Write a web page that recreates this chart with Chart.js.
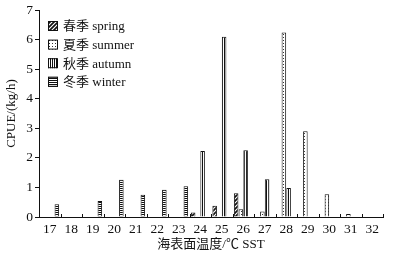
<!DOCTYPE html>
<html>
<head>
<meta charset="utf-8">
<script src="https://cdn.jsdelivr.net/npm/chart.js@4.4.1/dist/chart.umd.min.js"></script>
<style>
  html, body { margin: 0; padding: 0; background: #fff; }
  #wrap { width: 393px; height: 259px; position: relative; }
</style>
</head>
<body>
<div id="wrap"><canvas id="chart"></canvas></div>
<script>
// SST categories (°C)
const sstLabels = ["17", "18", "19", "20", "21", "22", "23", "24", "25", "26", "27", "28", "29", "30", "31", "32"];

// CPUE (kg/h) by season; null = no bar
const springCpue = [null, null, null, null, null, 0.02, 0.02, 0.15, 0.38, 0.8, null, null, null, null, null, null];
const summerCpue = [null, null, null, null, null, null, null, null, null, 0.26, 0.19, 6.24, 2.9, 0.77, 0.1, null];
const autumnCpue = [null, null, null, null, null, null, null, 2.23, 6.1, 2.26, 1.28, 0.98, null, null, null, null];
const winterCpue = [0.43, null, 0.54, 1.26, 0.75, 0.92, 1.04, null, null, null, null, null, null, null, null, null];

const seasonCn = ["春季", "夏季", "秋季", "冬季"];
const seasonEn = ["spring", "summer", "autumn", "winter"];

const yTicks = [0, 1, 2, 3, 4, 5, 6, 7];

const FONT = "'Liberation Serif', 'Times New Roman', 'Noto Sans CJK SC', serif";
const INK = "#111";

// little canvas patterns to mimic the hatch fills
function makePattern(kind) {
    const c = document.createElement("canvas");
    const g = c.getContext("2d");
    if (kind === "diag") {
        c.width = 4; c.height = 4;
        g.fillStyle = "#fff"; g.fillRect(0, 0, 4, 4);
        g.strokeStyle = INK; g.lineWidth = 1.7;
        g.beginPath();
        g.moveTo(-1, 5); g.lineTo(5, -1);
        g.moveTo(-1, 1); g.lineTo(1, -1);
        g.moveTo(3, 5); g.lineTo(5, 3);
        g.stroke();
    } else if (kind === "dots") {
        c.width = 3; c.height = 3;
        g.fillStyle = "#fff"; g.fillRect(0, 0, 3, 3);
        g.fillStyle = "#333"; g.fillRect(1, 1, 1, 1);
    } else if (kind === "vert") {
        c.width = 2; c.height = 2;
        g.fillStyle = "#fff"; g.fillRect(0, 0, 2, 2);
        g.fillStyle = INK; g.fillRect(0, 0, 1, 2);
    } else {
        c.width = 2; c.height = 2;
        g.fillStyle = "#fff"; g.fillRect(0, 0, 2, 2);
        g.fillStyle = INK; g.fillRect(0, 0, 2, 1);
    }
    return g.createPattern(c, "repeat");
}

const fills = [makePattern("diag"), makePattern("dots"), makePattern("vert"), makePattern("horiz")];
const seriesData = [springCpue, summerCpue, autumnCpue, winterCpue];

const datasets = seriesData.map((d, i) => ({
    label: seasonCn[i] + " " + seasonEn[i],
    data: d,
    backgroundColor: fills[i],
    borderColor: INK,
    borderWidth: 1,
    categoryPercentage: 0.88,
    barPercentage: 0.96
}));

// legend drawn inside the plot, top-left
const insideLegend = {
    id: "insideLegend",
    afterDraw(chart) {
        const ctx = chart.ctx;
        const area = chart.chartArea;
        ctx.save();
        ctx.font = "13px " + FONT;
        ctx.textBaseline = "middle";
        chart.data.datasets.forEach((ds, i) => {
            const x = area.left + 9;
            const y = 26 + i * 18.6;
            ctx.fillStyle = ds.backgroundColor;
            ctx.fillRect(x, y - 5, 10, 10);
            ctx.strokeStyle = INK;
            ctx.lineWidth = 1;
            ctx.strokeRect(x + 0.5, y - 4.5, 9, 9);
            ctx.fillStyle = INK;
            ctx.fillText(ds.label, x + 15, y + 1);
        });
        ctx.restore();
    }
};

// small inward ticks at category boundaries on the x axis
const innerTicks = {
    id: "innerTicks",
    afterDraw(chart) {
        const xs = chart.scales.x;
        const ctx = chart.ctx;
        const bottom = chart.chartArea.bottom;
        const half = (xs.getPixelForValue(1) - xs.getPixelForValue(0)) / 2;
        ctx.save();
        ctx.strokeStyle = INK;
        ctx.lineWidth = 1;
        ctx.beginPath();
        for (let i = 0; i < sstLabels.length; i++) {
            const px = Math.round(xs.getPixelForValue(i) + half) + 0.5;
            ctx.moveTo(px, bottom);
            ctx.lineTo(px, bottom - 3);
        }
        ctx.stroke();
        ctx.restore();
    }
};

new Chart(document.getElementById("chart"), {
    type: "bar",
    data: { labels: sstLabels, datasets: datasets },
    options: {
        responsive: true,
        maintainAspectRatio: false,
        animation: false,
        devicePixelRatio: 1,
        layout: { padding: { left: 0, right: 10, top: 10, bottom: 0 } },
        plugins: {
            legend: { display: false },
            tooltip: { enabled: false }
        },
        scales: {
            x: {
                grid: { display: false, drawTicks: false },
                border: { color: INK, width: 1 },
                ticks: { color: INK, font: { family: FONT, size: 13.5 }, padding: 4, maxRotation: 0, autoSkip: false },
                title: {
                    display: true,
                    text: "海表面温度/℃ SST",
                    color: INK,
                    font: { family: FONT, size: 13 },
                    padding: { top: 0, bottom: 7 }
                },
                afterFit(scale) { scale.height = 42; }
            },
            y: {
                min: 0,
                max: 7,
                afterBuildTicks(scale) { scale.ticks = yTicks.map(v => ({ value: v })); },
                grid: { drawOnChartArea: false, drawTicks: true, tickLength: 4, color: INK },
                border: { color: INK, width: 1 },
                ticks: { color: INK, font: { family: FONT, size: 13.5 }, padding: 2 },
                title: {
                    display: true,
                    text: "CPUE/(kg/h)",
                    color: INK,
                    font: { family: FONT, size: 13 },
                    padding: { top: 4, bottom: 0 }
                },
                afterFit(scale) { scale.width = 39; }
            }
        }
    },
    plugins: [insideLegend, innerTicks]
});
</script>
</body>
</html>
